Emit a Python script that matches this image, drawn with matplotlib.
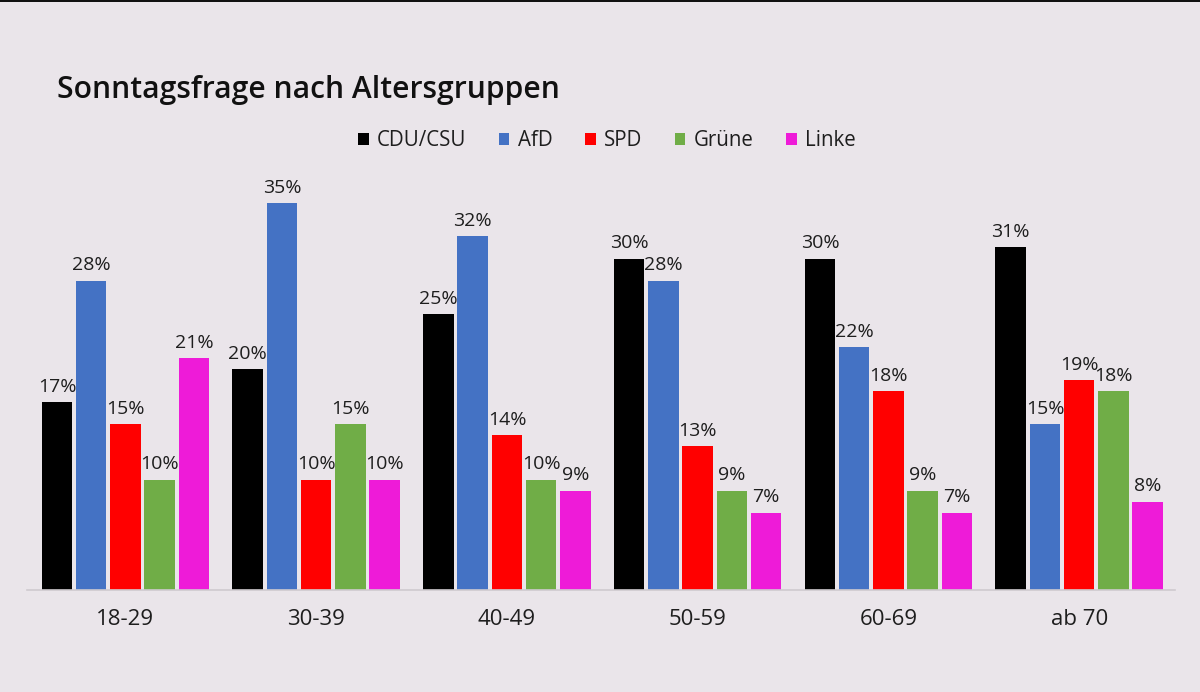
import matplotlib
matplotlib.use("Agg")
import matplotlib.pyplot as plt
from matplotlib.patches import Patch, Rectangle
import numpy as np

# ---- data ----
groups = ["18-29", "30-39", "40-49", "50-59", "60-69", "ab 70"]
parties = ["CDU/CSU", "AfD", "SPD", "Grüne", "Linke"]
cdu = [17, 20, 25, 30, 30, 31]
afd = [28, 35, 32, 28, 22, 15]
spd = [15, 10, 14, 13, 18, 19]
gruene = [10, 15, 10, 9, 9, 18]
linke = [21, 10, 9, 7, 7, 8]
series = [cdu, afd, spd, gruene, linke]
colors = ["#000000", "#4472C4", "#FF0000", "#70AD47", "#EE1BD8"]
title = "Sonntagsfrage nach Altersgruppen"

bg = "#EAE5EA"
txt = "#1E1E1E"
plt.rcParams["font.family"] = ["Open Sans", "DejaVu Sans"]

fig = plt.figure(figsize=(12, 6.92), dpi=100)
fig.patch.set_facecolor(bg)

W, H = 1200, 692
ax_left, ax_right = 27, 1175
ax_bottom, ax_top = 590, 180
ax = fig.add_axes([ax_left / W, 1 - ax_bottom / H, (ax_right - ax_left) / W, (ax_bottom - ax_top) / H])
ax.set_facecolor(bg)

px_per_unit = 11.05
ax.set_ylim(0, (ax_bottom - ax_top) / px_per_unit)
ax.set_xlim(-0.516, 5.502)

x = np.arange(len(groups))
pitch = 0.1795
width = 0.16
for i, (vals, c, name) in enumerate(zip(series, colors, parties)):
    pos = x + (i - 2) * pitch
    bars = ax.bar(pos, vals, width=width, color=c, label=name, zorder=2)
    for b, v in zip(bars, vals):
        ax.annotate(f"{v}%", (b.get_x() + b.get_width() / 2, v),
                    xytext=(0, 4.5), textcoords="offset points",
                    ha="center", va="bottom", fontsize=14, color=txt)

for s in ["top", "right", "left"]:
    ax.spines[s].set_visible(False)
ax.spines["bottom"].set_color("#CFCACF")
ax.spines["bottom"].set_linewidth(1.2)
ax.set_yticks([])
ax.set_xticks(x)
ax.set_xticklabels(groups, fontsize=16, color=txt)
ax.tick_params(axis="x", length=0, pad=14)

fig.text(57 / W, 1 - 90 / H, title, fontsize=21.6, fontweight="semibold",
         color="#111111", ha="left", va="center")

handles = [Patch(facecolor=c, edgecolor="none") for c in colors]
fig.legend(handles, parties, loc="center", bbox_to_anchor=(607 / W, 1 - 141 / H),
           ncol=5, frameon=False, fontsize=14.8, handlelength=0.5, handleheight=0.5,
           handletextpad=0.4, columnspacing=1.6, labelcolor=txt)

# thin dark strip at the very top
fig.add_artist(Rectangle((0, 1 - 2 / H), 1, 2 / H, transform=fig.transFigure,
                         facecolor="#111111", edgecolor="none"))

fig.savefig("out.png", dpi=100, facecolor=bg)
